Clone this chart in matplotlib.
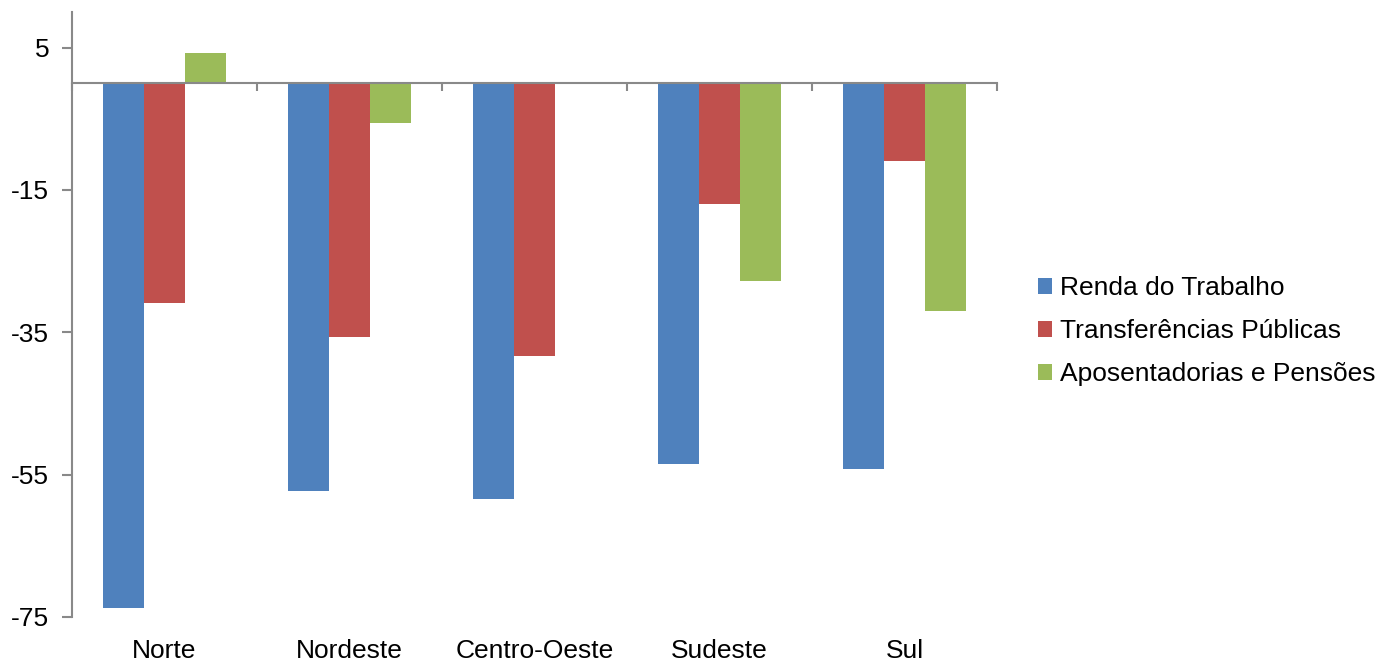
import numpy as np
import matplotlib.pyplot as plt
from matplotlib.transforms import blended_transform_factory

plt.rcParams['font.family'] = ['Liberation Sans', 'DejaVu Sans']
plt.rcParams['axes.unicode_minus'] = False

regioes = ['Norte', 'Nordeste', 'Centro-Oeste', 'Sudeste', 'Sul']
renda_trabalho = [-73.7, -57.3, -58.4, -53.5, -54.2]
transf_publicas = [-30.9, -35.7, -38.4, -17.0, -10.9]
aposentadorias = [4.3, -5.6, 0.0, -27.8, -32.0]
series_nomes = ['Renda do Trabalho', 'Transferências Públicas', 'Aposentadorias e Pensões']
cores = ['#4F81BD', '#C0504D', '#9BBB59']
yticks = [5, -15, -35, -55, -75]

fig = plt.figure(figsize=(13.79, 6.61), dpi=100)
ax = fig.add_axes([72 / 1379, 1 - 617 / 661, (997 - 72) / 1379, (617 - 12) / 661])

x = np.arange(len(regioes))
w = 0.222
for i, (vals, nome, cor) in enumerate(zip([renda_trabalho, transf_publicas, aposentadorias], series_nomes, cores)):
    ax.bar(x + (i - 1) * w, vals, w, color=cor, label=nome, edgecolor='none')

ax.set_xlim(-0.5, len(regioes) - 0.5)
ax.set_ylim(-75, 10)
ax.set_yticks(yticks)
ax.tick_params(axis='y', direction='out', length=7, width=1.5, color='#898989', labelsize=19, pad=9.5)

for s in ['top', 'right']:
    ax.spines[s].set_visible(False)
for s in ['left', 'bottom']:
    ax.spines[s].set_color('#898989')
    ax.spines[s].set_linewidth(1.5)
ax.spines['bottom'].set_position(('data', 0))

ax.set_xticks(np.arange(-0.5, len(regioes)), labels=[])
ax.tick_params(axis='x', direction='out', length=6, width=1.5, color='#898989')

trans = blended_transform_factory(ax.transData, ax.transAxes)
for xi, nome in zip(x, regioes):
    ax.text(xi, -0.056, nome, transform=trans, ha='center', va='center', fontsize=19)

fig.legend(loc='center left', bbox_to_anchor=(1014 / 1379, 1 - 331 / 661), frameon=False,
           fontsize=19, handlelength=0.55, handleheight=0.55, handletextpad=0.3, labelspacing=0.72)

fig.savefig('out.png', dpi=100)
